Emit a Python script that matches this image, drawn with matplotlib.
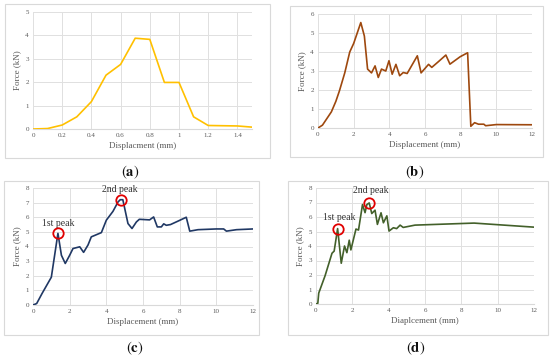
import matplotlib.pyplot as plt
from matplotlib.patches import Rectangle

plt.rcParams['font.family'] = ['Liberation Serif', 'DejaVu Serif']
plt.rcParams['mathtext.fontset'] = 'stix'

# (a) force vs displacement
a_x = [0, 0.1, 0.2, 0.3, 0.4, 0.5, 0.6, 0.7, 0.8, 0.9, 1.0, 1.1, 1.2, 1.3, 1.4, 1.5]
a_y = [0, 0.02, 0.17, 0.52, 1.17, 2.3, 2.76, 3.88, 3.83, 1.99, 1.99, 0.52, 0.15, 0.14, 0.13, 0.08]

# (b)
b_x = [0, 0.25, 0.5, 0.75, 1.0, 1.2, 1.5, 1.78, 2.0, 2.2, 2.4, 2.6, 2.78, 3.0, 3.2, 3.38,
       3.56, 3.8, 3.98, 4.16, 4.37, 4.58, 4.78, 5.0, 5.57, 5.78, 6.2, 6.38, 6.75, 7.17,
       7.4, 7.97, 8.39, 8.57, 8.78, 9.0, 9.3, 9.4, 10.0, 12.0]
b_y = [0, 0.15, 0.5, 0.85, 1.4, 1.95, 2.9, 4.0, 4.45, 5.0, 5.55, 4.84, 3.1, 2.9, 3.27, 2.66,
       3.1, 3.0, 3.54, 2.83, 3.35, 2.75, 2.92, 2.87, 3.8, 2.9, 3.35, 3.19, 3.49, 3.84,
       3.36, 3.75, 3.96, 0.09, 0.28, 0.2, 0.2, 0.12, 0.18, 0.17]

# (c)
c_x = [0, 0.2, 0.5, 1.0, 1.36, 1.55, 1.76, 2.0, 2.18, 2.55, 2.76, 3.0, 3.18, 3.73, 4.0,
       4.36, 4.64, 4.76, 4.9, 5.18, 5.4, 5.64, 5.8, 6.36, 6.58, 6.78, 7.0, 7.13, 7.27,
       7.5, 7.9, 8.36, 8.55, 9.0, 10.0, 10.4, 10.55, 11.1, 12.0]
c_y = [0, 0.1, 0.8, 1.9, 4.9, 3.4, 2.84, 3.4, 3.86, 3.98, 3.6, 4.1, 4.66, 4.95, 5.8,
       6.4, 7.05, 7.2, 7.2, 5.57, 5.23, 5.68, 5.86, 5.82, 6.02, 5.34, 5.34, 5.55, 5.45,
       5.5, 5.73, 6.0, 5.05, 5.15, 5.2, 5.2, 5.05, 5.15, 5.2]
c_peaks_x = [1.36, 4.78]
c_peaks_y = [4.9, 7.2]

# (d)
d_x = [0, 0.1, 0.15, 0.5, 0.88, 1.0, 1.19, 1.39, 1.57, 1.7, 1.83, 1.92, 2.2, 2.34, 2.56,
       2.7, 2.8, 2.93, 3.07, 3.25, 3.38, 3.58, 3.71, 3.9, 4.02, 4.26, 4.44, 4.63, 4.8,
       5.45, 8.0, 8.7, 12.0]
d_y = [0, 0.05, 0.75, 1.95, 3.5, 3.65, 5.2, 2.81, 4.0, 3.54, 4.4, 3.73, 5.17, 5.1, 6.86,
       6.3, 6.86, 6.97, 6.24, 6.47, 5.49, 6.29, 5.6, 6.08, 5.03, 5.26, 5.2, 5.44, 5.28,
       5.44, 5.55, 5.58, 5.3]
d_peaks_x = [1.19, 2.93]
d_peaks_y = [5.2, 6.97]

W, H = 550, 358
fig = plt.figure(figsize=(W / 100, H / 100), dpi=100)


def px_box(l, t, r, b):
    return [l / W, 1 - b / H, (r - l) / W, (b - t) / H]


def frame(l, t, r, b):
    fig.patches.append(Rectangle((l / W, 1 - b / H), (r - l) / W, (b - t) / H,
                                 transform=fig.transFigure, fill=False,
                                 edgecolor='#d9d9d9', lw=0.8))


def panel(box, xs, ys, color, xlim, xticks, ymax, xlabel, xticklabels=None):
    ax = fig.add_axes(px_box(*box))
    ax.plot(xs, ys, color=color, lw=1.2, zorder=3)
    ax.set_xlim(*xlim)
    ax.set_ylim(0, ymax)
    ax.set_xticks(xticks)
    if xticklabels:
        ax.set_xticklabels(xticklabels)
    ax.set_yticks(range(0, ymax + 1))
    ax.grid(True, color='#e0e0e0', lw=0.7)
    ax.set_axisbelow(True)
    for s in ['top', 'right', 'left']:
        ax.spines[s].set_visible(False)
    ax.spines['bottom'].set_color('#d9d9d9')
    ax.spines['bottom'].set_linewidth(0.8)
    ax.tick_params(length=0, labelsize=5, labelcolor='#595959', pad=3)
    ax.set_xlabel(xlabel, fontsize=6.5, color='#595959', labelpad=3)
    ax.set_ylabel('Force (kN)', fontsize=6.5, color='#595959', labelpad=3)
    return ax


frame(5, 4, 270, 158)
frame(290, 6, 543, 157)
frame(4, 181, 259, 335)
frame(288, 181, 548, 335)

panel((33, 12, 252, 129), a_x, a_y, '#ffc000', (0, 1.5),
      [0, 0.2, 0.4, 0.6, 0.8, 1.0, 1.2, 1.4], 5, 'Displacment (mm)',
      ['0', '0.2', '0.4', '0.6', '0.8', '1', '1.2', '1.4'])
panel((318, 14, 532, 128), b_x, b_y, '#9e480e', (0, 12),
      range(0, 13, 2), 6, 'Displacement (mm)')
axc = panel((33, 188, 253, 305), c_x, c_y, '#203864', (0, 12),
            range(0, 13, 2), 8, 'Displacement (mm)')
axd = panel((316, 188, 534, 304), d_x, d_y, '#43602a', (0, 12),
            range(0, 13, 2), 8, 'Diaplcement (mm)')

for ax, px, py in [(axc, c_peaks_x, c_peaks_y), (axd, d_peaks_x, d_peaks_y)]:
    ax.plot(px, py, 'o', ms=7.5, mfc='none', mec='#e00000', mew=1.3, zorder=4)

axc.text(1.36, 5.6, '1st peak', fontsize=7, ha='center', va='center', color='#333333')
axc.text(4.76, 7.9, '2nd peak', fontsize=7, ha='center', va='center', color='#333333')
axd.text(1.3, 6.0, '1st peak', fontsize=7, ha='center', va='center', color='#333333')
axd.text(3.0, 7.8, '2nd peak', fontsize=7, ha='center', va='center', color='#333333')

for x, y, s in [(130, 172, 'a'), (415, 172, 'b'), (135, 348, 'c'), (416, 348, 'd')]:
    fig.text(x / W, 1 - y / H, r'$(\mathbf{' + s + '})$', fontsize=10.5,
             ha='center', va='center', color='#111111')

fig.savefig('out.png', dpi=100)
